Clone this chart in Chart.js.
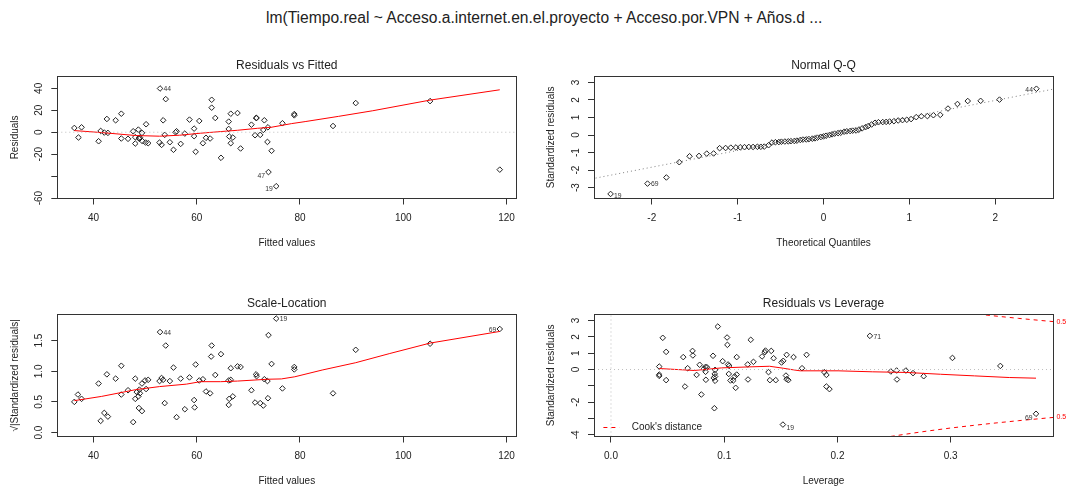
<!DOCTYPE html>
<html>
<head>
<meta charset="utf-8">
<script src="https://cdn.jsdelivr.net/npm/chart.js@4.4.1/dist/chart.umd.min.js"></script>
<style>
  body { margin: 0; background: #fff; }
  #wrap { position: relative; width: 1066px; height: 489px; overflow: hidden; background: #fff; }
  #main { position: absolute; left: 266px; top: 9px; font: 15.6px/18px "Liberation Sans", Arial, sans-serif; color: #222; white-space: nowrap; }
  canvas { position: absolute; }
</style>
</head>
<body>
<div id="wrap">
  <div id="main">lm(Tiempo.real ~ Acceso.a.internet.en.el.proyecto + Acceso.por.VPN + Años.d ...</div>
  <canvas id="rvf" width="533" height="210" style="left:0;top:40px"></canvas>
  <canvas id="qq" width="533" height="210" style="left:533px;top:40px"></canvas>
  <canvas id="sl" width="533" height="210" style="left:0;top:278px"></canvas>
  <canvas id="rvl" width="533" height="210" style="left:533px;top:278px"></canvas>
</div>
<script>
// --- Residuals vs Fitted ---
const fitted = [36.3,37.1,37.7,41.0,41.4,42.1,42.6,42.8,44.3,45.4,45.4,46.7,47.7,48.1,48.1,48.7,48.8,48.9,49.0,49.4,
  49.5,50.1,50.2,50.6,52.8,52.9,53.2,53.5,53.8,54.0,54.8,55.5,55.9,56.1,56.9,57.7,58.6,59.5,59.5,59.8,
  60.5,61.2,61.8,62.6,62.9,62.9,63.6,64.7,66.2,66.2,66.3,66.6,66.6,67.0,67.9,68.5,70.6,71.3,71.5,71.6,
  72.3,72.9,73.1,73.7,73.8,73.9,74.5,75.4,76.6,78.9,78.9,86.4,90.8,105.2,118.7];
const residuals = [3.9,-4.8,4.5,-8.2,1.2,-0.3,12.1,-0.6,10.9,-5.7,16.9,-6.0,0.9,-10.3,-4.5,2.4,-5.4,-6.0,-4.8,-0.6,
  -8.2,-9.4,7.3,-10.0,-9.4,39.9,-11.5,10.9,-2.4,30.2,-9.1,-16.0,0.0,0.9,-10.6,-1.2,11.5,3.3,-3.6,-17.8,
  10.3,-10.0,-5.1,-5.7,29.6,22.4,13.0,-23.3,9.7,3.0,-3.9,16.9,-10.0,-4.8,17.5,-14.8,6.9,-2.7,13.0,13.0,
  -2.4,2.1,10.9,-8.8,4.5,-36.3,-16.9,-49.2,8.2,16.6,15.4,5.7,26.6,28.4,-34.1];
const rvfSmoothX = [36.3,41.6,48.2,52.8,56.7,60.7,64.6,67.9,71.8,74.4,78.4,81.0,87.5,94.1,105.2,118.7];
const rvfSmoothY = [1.5,-0.3,-3.0,-3.6,-2.7,-0.9,0.6,1.8,3.6,4.5,7.9,9.7,14.5,19.6,29.3,38.7];
const rvfXRange = [33.0, 121.9];
const rvfYRange = [-60.4, 51.0];
const fitTicks = [40, 60, 80, 100, 120];
const fitLabels = ['40', '60', '80', '100', '120'];
const rvfYTicks = [-60, -40, -20, 0, 20, 40];
const rvfYLabels = ['-60', '', '-20', '0', '20', '40'];
const rvfIds = [[25, '44', 'r', 1], [65, '47', 'l', 4], [67, '19', 'l', 2.7]];

// --- Normal Q-Q ---
const qqTheo = [-2.48,-2.05,-1.83,-1.68,-1.56,-1.45,-1.36,-1.28,-1.21,-1.14,-1.08,-1.02,-0.97,-0.92,-0.87,-0.82,-0.77,-0.73,-0.69,-0.64,
  -0.60,-0.56,-0.52,-0.49,-0.45,-0.41,-0.38,-0.34,-0.31,-0.27,-0.24,-0.20,-0.17,-0.13,-0.10,-0.07,-0.03,0.00,0.03,0.07,
  0.10,0.13,0.17,0.20,0.24,0.27,0.31,0.34,0.38,0.41,0.45,0.49,0.52,0.56,0.60,0.64,0.69,0.73,0.77,0.82,
  0.87,0.92,0.97,1.02,1.08,1.14,1.21,1.28,1.36,1.45,1.56,1.68,1.83,2.05,2.48];
const qqRes = [-3.36,-2.77,-2.42,-1.55,-1.21,-1.19,-1.06,-1.05,-0.75,-0.74,-0.72,-0.71,-0.70,-0.69,-0.68,-0.68,-0.67,-0.67,-0.66,-0.58,
  -0.43,-0.41,-0.40,-0.38,-0.37,-0.36,-0.35,-0.34,-0.32,-0.28,-0.26,-0.25,-0.23,-0.21,-0.19,-0.15,-0.11,-0.08,-0.04,0.00,
  0.04,0.08,0.11,0.13,0.19,0.21,0.23,0.25,0.26,0.30,0.38,0.45,0.51,0.60,0.70,0.73,0.74,0.75,0.77,0.79,
  0.83,0.85,0.87,0.91,1.02,1.07,1.08,1.13,1.15,1.51,1.77,1.94,1.95,2.02,2.64];
const qqLineX = [-2.7, 2.7];
const qqLineY = [-2.5, 2.64];
const qqXRange = [-2.673, 2.673];
const qqYRange = [-3.62, 3.35];
const qqXTicks = [-2, -1, 0, 1, 2];
const qqXLabels = ['-2', '-1', '0', '1', '2'];
const qqYTicks = [-3, -2, -1, 0, 1, 2, 3];
const qqYLabels = ['-3', '-2', '-1', '0', '1', '2', '3'];
const qqIds = [[0, '19', 'r', 1.7], [1, '69', 'r', 1], [74, '44', 'l', 1.7]];

// --- Scale-Location ---
const slFitted = [36.3,37.0,37.7,41.0,41.4,42.1,42.6,42.8,44.3,45.4,45.4,46.7,47.7,48.1,48.1,48.4,48.7,48.8,48.9,49.0,
  49.4,49.4,50.0,50.2,50.6,52.8,52.9,53.2,53.5,53.8,54.0,54.8,55.5,56.1,56.9,57.7,58.6,59.5,59.6,59.8,
  60.5,61.2,61.8,62.6,62.8,62.9,63.6,64.7,66.2,66.2,66.3,66.6,66.6,67.0,67.9,68.5,70.6,71.3,71.5,71.6,
  72.3,72.9,73.1,73.7,73.8,73.9,74.5,75.4,76.6,78.9,78.9,86.4,90.8,105.2,118.7];
const slRoot = [0.50,0.62,0.55,0.80,0.19,0.32,0.95,0.26,0.88,1.09,0.62,0.69,0.17,0.88,0.55,0.66,0.59,0.40,0.70,0.64,
  0.80,0.35,0.85,0.71,0.86,0.84,1.64,0.89,0.86,0.48,1.42,0.84,1.06,0.25,0.88,0.38,0.90,0.53,0.41,1.11,
  0.85,0.87,0.67,0.64,1.24,1.42,0.94,1.28,0.45,0.85,0.55,1.05,0.86,0.59,1.08,1.07,0.69,0.49,0.95,0.92,
  0.48,0.44,0.87,0.84,0.56,1.59,1.12,1.86,0.72,1.07,1.03,0.64,1.35,1.45,1.69];
const slSmoothX = [36.3,41.6,48.2,52.8,58.0,60.7,64.6,67.9,73.8,76.4,79.0,84.3,90.8,97.4,105.2,118.7];
const slSmoothY = [0.52,0.59,0.70,0.75,0.79,0.83,0.83,0.84,0.87,0.875,0.91,1.02,1.14,1.29,1.46,1.65];
const slYRange = [-0.065, 1.93];
const slYTicks = [0, 0.5, 1, 1.5];
const slYLabels = ['0.0', '0.5', '1.0', '1.5'];
const slIds = [[26, '44', 'r', 0.7], [67, '19', 'r', 1], [74, '69', 'l', 0.7]];

// --- Residuals vs Leverage ---
const leverage = [0.0426,0.0426,0.0426,0.0457,0.0487,0.0487,0.0638,0.0653,0.0677,0.0720,0.0723,0.0756,0.0783,0.0798,0.0822,
  0.0835,0.0835,0.0838,0.0847,0.0901,0.0907,0.0913,0.0916,0.0919,0.0919,0.0919,0.0943,0.0986,0.1025,0.1028,
  0.1034,0.1040,0.1043,0.1055,0.1080,0.1092,0.1101,0.1110,0.1110,0.1207,0.1210,0.1234,0.1258,0.1334,0.1358,
  0.1364,0.1391,0.1403,0.1415,0.1436,0.1455,0.1506,0.1521,0.1518,0.1545,0.1551,0.1551,0.1566,0.1612,0.1687,
  0.1727,0.1884,0.1902,0.1902,0.1929,0.2286,0.2471,0.2522,0.2525,0.2604,0.2667,0.2761,0.3015,0.3438,0.3753];
const stdRes = [0.18,-0.31,-0.39,1.94,1.08,-0.65,0.76,-1.04,0.08,1.14,0.86,-0.33,0.29,-1.53,0.06,
  0.16,-0.14,-0.63,0.14,0.84,-0.51,-2.37,-0.27,-0.02,-0.43,-0.69,2.63,0.51,1.96,1.51,
  0.31,-0.27,0.22,-0.67,-0.67,-0.43,-1.12,0.76,-0.31,0.31,-0.61,1.82,0.47,0.80,1.06,
  1.16,-0.16,-0.65,1.14,0.69,-0.65,0.43,0.53,-3.37,-0.37,0.90,-0.59,-0.65,0.76,0.08,
  0.90,-0.16,-0.33,-1.04,-1.20,2.06,-0.12,-0.06,-0.61,-0.06,-0.22,-0.41,0.71,0.22,-2.71];
const rvlSmoothX = [0.0426,0.0584,0.0735,0.0977,0.1219,0.140,0.152,0.161,0.167,0.2005,0.2307,0.261,0.291,0.321,0.3517,0.3753];
const rvlSmoothY = [0.06,0.0,-0.06,0.10,0.16,0.20,0.08,-0.02,-0.08,-0.08,-0.14,-0.18,-0.29,-0.39,-0.49,-0.53];
const cookH = [0.24,0.26,0.28,0.30,0.32,0.34,0.36,0.38,0.391];
const cookUpper = [4.17,3.96,3.76,3.58,3.42,3.27,3.13,3.00,2.93];
const cookLower = [-4.17,-3.96,-3.76,-3.58,-3.42,-3.27,-3.13,-3.00,-2.93];
const cookLevel = '0.5';
const rvlXRange = [-0.015, 0.3903];
const rvlYRange = [-4.1, 3.38];
const rvlXTicks = [0, 0.1, 0.2, 0.3];
const rvlXLabels = ['0.0', '0.1', '0.2', '0.3'];
const rvlYTicks = [-4, -3, -2, -1, 0, 1, 2, 3];
const rvlYLabels = ['-4', '', '-2', '', '0', '1', '2', '3'];
const rvlIds = [[65, '71', 'r', 1.3], [53, '19', 'r', 3.3], [74, '69', 'l', 4]];

const FONT = "'Liberation Sans', Arial, sans-serif";
const INK = '#222';
Chart.defaults.font.family = FONT;
Chart.defaults.font.size = 10;
Chart.defaults.color = INK;

function pts(xs, ys) {
  return {
    data: xs.map((x, i) => ({ x: x, y: ys[i] })),
    showLine: false, pointStyle: 'rectRot', pointRadius: 2.8,
    pointBorderWidth: 1, pointBorderColor: INK, pointBackgroundColor: 'rgba(0,0,0,0)'
  };
}

function line(xs, ys, color, dash) {
  return {
    data: xs.map((x, i) => ({ x: x, y: ys[i] })),
    showLine: true, pointRadius: 0, borderColor: color, borderWidth: 1,
    borderDash: dash || [], fill: false, tension: 0
  };
}

function axis(range, ticks, labels, title, tickOpts, fit) {
  return {
    type: 'linear', min: range[0], max: range[1], bounds: 'data',
    afterBuildTicks: ax => { ax.ticks = ticks.map(v => ({ value: v })); },
    afterFit: fit,
    ticks: Object.assign({ autoSkip: false, color: INK, font: { size: 10 },
      callback: v => labels[ticks.indexOf(v)] }, tickOpts),
    grid: { display: true, drawOnChartArea: false, drawTicks: true, tickLength: 6, tickColor: '#333', tickWidth: 1 },
    border: { display: false },
    title: { display: true, text: title, color: INK, font: { size: 10, lineHeight: '12px' }, padding: 0 }
  };
}

// box, point ids and extras drawn on top of the datasets
function decor(ids, extra) {
  return {
    id: 'decor',
    afterDatasetsDraw(chart) {
      const ctx = chart.ctx, a = chart.chartArea;
      ctx.save();
      const L = Math.round(a.left - 0.5) + 0.5, R = Math.round(a.right - 0.5) + 0.5;
      const T = Math.round(a.top - 0.5) + 0.5, B = Math.round(a.bottom - 0.5) + 0.5;
      ctx.strokeStyle = '#333';
      ctx.lineWidth = 1;
      ctx.strokeRect(L, T, R - L, B - T);

      const meta = chart.getDatasetMeta(chart.data.datasets.length - 1);
      ctx.font = '6.8px ' + FONT;
      ctx.fillStyle = '#333';
      ctx.textBaseline = 'middle';
      ids.forEach(([i, txt, side, dy]) => {
        const el = meta.data[i];
        ctx.textAlign = side === 'l' ? 'right' : 'left';
        ctx.fillText(txt, el.x + (side === 'l' ? -3.5 : 3.5), el.y + dy);
      });
      if (extra) extra(chart, ctx);
      ctx.restore();
    }
  };
}

function panel(id, cfg) {
  new Chart(document.getElementById(id), {
    type: 'scatter',
    data: { datasets: cfg.datasets },
    options: {
      responsive: false, animation: false, devicePixelRatio: 1, events: [],
      layout: { padding: { left: cfg.padL, right: cfg.padR, top: 0, bottom: 1 } },
      scales: {
        x: axis(cfg.xRange, cfg.xTicks, cfg.xLabels, cfg.xTitle,
          { padding: 8, maxRotation: 0, minRotation: 0 }, s => { s.height = 50.5; }),
        y: axis(cfg.yRange, cfg.yTicks, cfg.yLabels, cfg.yTitle,
          { padding: cfg.yPad, minRotation: 90, maxRotation: 90, crossAlign: 'center' }, s => { s.width = 48.3; })
      },
      plugins: {
        legend: { display: false },
        tooltip: { enabled: false },
        title: {
          display: true, text: cfg.title, fullSize: false, color: INK,
          font: { size: 12, weight: 'normal', lineHeight: '14px' },
          padding: { top: 18.9, bottom: 3.4 }
        }
      }
    },
    plugins: [decor(cfg.ids, cfg.extra)]
  });
}

panel('rvf', {
  title: 'Residuals vs Fitted', xTitle: 'Fitted values', yTitle: 'Residuals',
  padL: 9, padR: 16.7, yPad: 4.8,
  xRange: rvfXRange, xTicks: fitTicks, xLabels: fitLabels,
  yRange: rvfYRange, yTicks: rvfYTicks, yLabels: rvfYLabels,
  ids: rvfIds,
  datasets: [
    line(rvfXRange, [0, 0], '#bebebe', [1, 3]),
    line(rvfSmoothX, rvfSmoothY, '#ff0000'),
    pts(fitted, residuals)
  ]
});

panel('qq', {
  title: 'Normal Q-Q', xTitle: 'Theoretical Quantiles', yTitle: 'Standardized residuals',
  padL: 12.7, padR: 13, yPad: 7.5,
  xRange: qqXRange, xTicks: qqXTicks, xLabels: qqXLabels,
  yRange: qqYRange, yTicks: qqYTicks, yLabels: qqYLabels,
  ids: qqIds,
  datasets: [
    line(qqLineX, qqLineY, '#7f7f7f', [1, 3]),
    pts(qqTheo, qqRes)
  ]
});

panel('sl', {
  title: 'Scale-Location', xTitle: 'Fitted values', yTitle: '\u221A|Standardized residuals|',
  padL: 9, padR: 16.7, yPad: 5,
  xRange: rvfXRange, xTicks: fitTicks, xLabels: fitLabels,
  yRange: slYRange, yTicks: slYTicks, yLabels: slYLabels,
  ids: slIds,
  datasets: [
    line(slSmoothX, slSmoothY, '#ff0000'),
    pts(slFitted, slRoot)
  ]
});

panel('rvl', {
  title: 'Residuals vs Leverage', xTitle: 'Leverage', yTitle: 'Standardized residuals',
  padL: 12.7, padR: 13, yPad: 7.5,
  xRange: rvlXRange, xTicks: rvlXTicks, xLabels: rvlXLabels,
  yRange: rvlYRange, yTicks: rvlYTicks, yLabels: rvlYLabels,
  ids: rvlIds,
  datasets: [
    line(rvlXRange, [0, 0], '#bebebe', [1, 3]),
    line([0, 0], rvlYRange, '#bebebe', [1, 3]),
    line(cookH, cookUpper, '#ff0000', [4, 4]),
    line(cookH, cookLower, '#ff0000', [4, 4]),
    line(rvlSmoothX, rvlSmoothY, '#ff0000'),
    pts(leverage, stdRes)
  ],
  extra: (chart, ctx) => {
    const a = chart.chartArea, ys = chart.scales.y;
    ctx.font = '7px ' + FONT;
    ctx.fillStyle = '#ff0000';
    ctx.textAlign = 'left';
    ctx.textBaseline = 'middle';
    ctx.fillText(cookLevel, a.right + 3.4, ys.getPixelForValue(cookUpper[cookUpper.length - 1]));
    ctx.fillText(cookLevel, a.right + 3.4, ys.getPixelForValue(cookLower[cookLower.length - 1]));
    // legend, bottom left inside the box
    const ly = Math.round(a.bottom - 10) + 0.5;
    ctx.strokeStyle = '#ff0000';
    ctx.lineWidth = 1;
    ctx.setLineDash([4, 4]);
    ctx.beginPath();
    ctx.moveTo(a.left + 9.4, ly);
    ctx.lineTo(a.left + 25.5, ly);
    ctx.stroke();
    ctx.setLineDash([]);
    ctx.fillStyle = INK;
    ctx.font = '10px ' + FONT;
    ctx.fillText("Cook's distance", a.left + 37.7, ly);
  }
});
</script>
</body>
</html>
